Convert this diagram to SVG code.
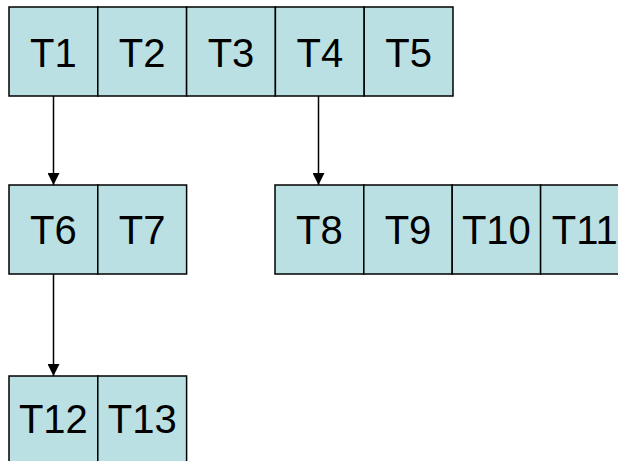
<svg xmlns="http://www.w3.org/2000/svg" width="618" height="461" viewBox="0 0 618 461">
  <style>
    .cell { fill: #BBE0E3; stroke: #000; stroke-width: 1.5; }
    .lbl { font-family: "Liberation Sans", Arial, sans-serif; font-size: 40px; fill: #000; text-anchor: middle; }
    .edge { stroke: #000; stroke-width: 1.5; fill: none; marker-end: url(#arrow); }
  </style>
  <defs>
    <marker id="arrow" markerWidth="12" markerHeight="12" refX="12" refY="6" orient="auto" markerUnits="userSpaceOnUse">
      <path d="M0,0 L12,6 L0,12 Z" fill="#000"/>
    </marker>
  </defs>
  <rect width="618" height="461" fill="#fff"/>

  <g id="row1">
    <g id="T1"><rect class="cell" x="9" y="7" width="88.8" height="89"/><text class="lbl" x="53.4" y="67">T1</text></g>
    <g id="T2"><rect class="cell" x="97.8" y="7" width="88.8" height="89"/><text class="lbl" x="142.2" y="67">T2</text></g>
    <g id="T3"><rect class="cell" x="186.6" y="7" width="88.8" height="89"/><text class="lbl" x="231" y="67">T3</text></g>
    <g id="T4"><rect class="cell" x="275.4" y="7" width="88.8" height="89"/><text class="lbl" x="319.8" y="67">T4</text></g>
    <g id="T5"><rect class="cell" x="364.2" y="7" width="88.8" height="89"/><text class="lbl" x="408.6" y="67">T5</text></g>
  </g>

  <g id="row2a">
    <g id="T6"><rect class="cell" x="9" y="185" width="88.8" height="89"/><text class="lbl" x="53.4" y="244">T6</text></g>
    <g id="T7"><rect class="cell" x="97.8" y="185" width="88.8" height="89"/><text class="lbl" x="142.2" y="244">T7</text></g>
  </g>

  <g id="row2b">
    <g id="T8"><rect class="cell" x="275" y="185" width="88.8" height="89"/><text class="lbl" x="319.4" y="244">T8</text></g>
    <g id="T9"><rect class="cell" x="363.8" y="185" width="88.4" height="89"/><text class="lbl" x="408" y="244">T9</text></g>
    <g id="T10"><rect class="cell" x="452.2" y="185" width="88.4" height="89"/><text class="lbl" x="496.4" y="244">T10</text></g>
    <g id="T11"><rect class="cell" x="540.6" y="185" width="88.4" height="89"/><text class="lbl" x="584.8" y="244">T11</text></g>
  </g>

  <g id="row3">
    <g id="T12"><rect class="cell" x="9" y="376" width="88.8" height="95"/><text class="lbl" x="53.4" y="433">T12</text></g>
    <g id="T13"><rect class="cell" x="97.8" y="376" width="88.8" height="95"/><text class="lbl" x="142.2" y="433">T13</text></g>
  </g>

  <g id="connectors">
    <line class="edge" x1="53.5" y1="96" x2="53.5" y2="185"/>
    <line class="edge" x1="318.5" y1="96" x2="318.5" y2="185"/>
    <line class="edge" x1="53.5" y1="274" x2="53.5" y2="376"/>
  </g>
</svg>
